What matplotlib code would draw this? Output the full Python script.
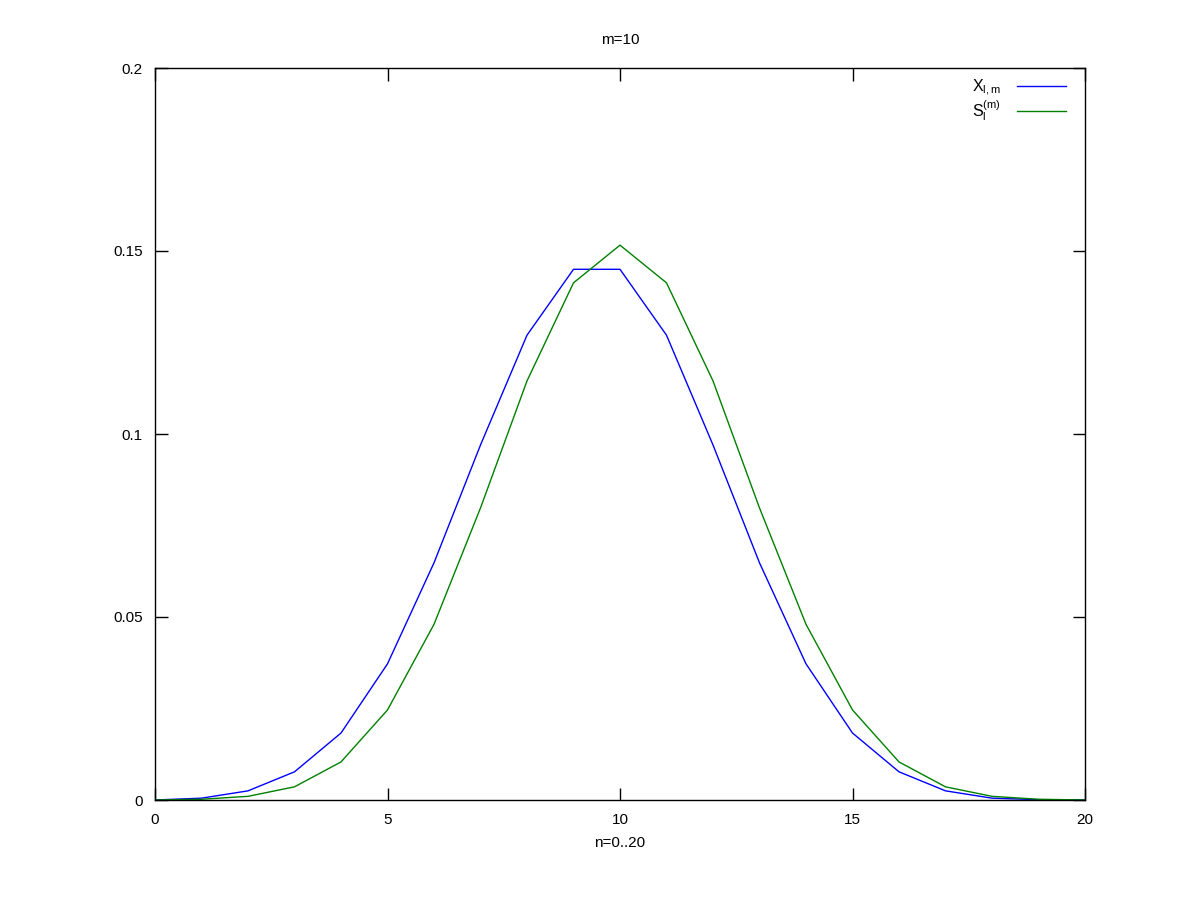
import matplotlib
matplotlib.use("Agg")
import matplotlib.pyplot as plt

plt.rcParams['font.family'] = ['Liberation Sans', 'DejaVu Sans']
plt.rcParams['mathtext.fontset'] = 'custom'
plt.rcParams['mathtext.rm'] = 'Liberation Sans'
plt.rcParams['mathtext.it'] = 'Liberation Sans'

n = list(range(21))
x_lm = [0.0, 0.0005, 0.0025, 0.0077, 0.0183, 0.0372, 0.0648, 0.097, 0.127, 0.145,
        0.145, 0.127, 0.097, 0.0648, 0.0372, 0.0183, 0.0077, 0.0025, 0.0005, 0.0001, 0.0]
s_lm = [0.0, 0.0002, 0.001, 0.0036, 0.0104, 0.0246, 0.048, 0.0798, 0.1145, 0.1413,
        0.1516, 0.1413, 0.1145, 0.0798, 0.048, 0.0246, 0.0104, 0.0036, 0.001, 0.0002, 0.0]
xticks = [0, 5, 10, 15, 20]
yticks = [0, 0.05, 0.1, 0.15, 0.2]
yticklabels = ['0', '0.05', '0.1', '0.15', '0.2']

fig = plt.figure(figsize=(12, 9), dpi=100)
ax = fig.add_axes([155/1200, 100/900, 930/1200, 732/900])

ax.plot(n, x_lm, color='#0000ff', lw=1, label=r'$\mathregular{X_{l,m}}$')
ax.plot(n, s_lm, color='#008000', lw=1, label=r'$\mathregular{S_l^{(m)}}$')

ax.set_xlim(0, 20)
ax.set_ylim(0, 0.2)
ax.set_xticks(xticks)
ax.set_yticks(yticks)
ax.set_yticklabels(yticklabels)
ax.tick_params(direction='in', length=9, width=1, top=True, right=True,
               labelsize=11, pad=9)
for s in ax.spines.values():
    s.set_linewidth(1)

ax.set_title('m=10', fontsize=11, pad=17)
ax.set_xlabel('n=0..20', fontsize=11, labelpad=7)

leg = ax.legend(loc='upper right', frameon=False, markerfirst=False, fontsize=11.5,
                handlelength=3.1, handletextpad=1.0, labelspacing=0.0,
                borderaxespad=0.2, bbox_to_anchor=(0.99, 1.0))

fig.savefig('out.png', dpi=100)
